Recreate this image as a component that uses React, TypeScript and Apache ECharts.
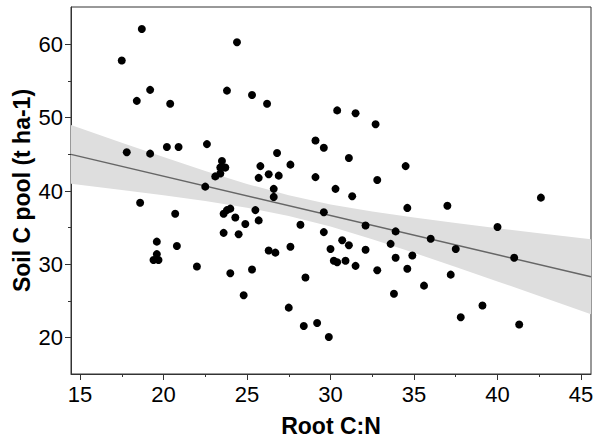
import React, { useEffect, useRef } from "react";
import * as echarts from "echarts";

// Root C:N (x) and Soil C pool (y) for each plot
const rootCN: number[] = [
  17.5, 18.7, 24.4, 19.2, 18.4, 20.4, 23.8, 25.3, 26.2, 17.8,
  19.2, 20.2, 20.9, 22.6, 23.5, 23.4, 23.7, 23.4, 23.1, 22.5,
  25.8, 25.7, 26.8, 26.3, 26.9, 27.6, 26.6, 26.6, 18.6, 20.7,
  23.6, 23.8, 24.0, 24.3, 24.9, 25.5, 25.7, 23.6, 24.5, 19.6,
  20.8, 19.6, 19.4, 19.7, 22.0, 24.0, 25.3, 24.8, 27.5, 27.6,
  26.3, 26.7, 28.2, 28.4, 30.4, 31.5, 32.7, 29.1, 29.6, 31.1,
  34.5, 29.1, 32.8, 30.3, 31.3, 34.6, 29.6, 29.6, 32.1, 33.9,
  33.6, 30.7, 31.1, 30.0, 32.1, 33.9, 30.2, 30.4, 30.9, 31.5,
  32.8, 34.6, 28.5, 33.8, 29.2, 29.9, 37.0, 42.6, 40.0, 36.0,
  37.5, 41.0, 34.9, 37.2, 35.6, 39.1, 37.8, 41.3,
];
const soilC: number[] = [
  57.8, 62.1, 60.3, 53.8, 52.3, 51.9, 53.7, 53.1, 51.9, 45.3,
  45.1, 46.0, 46.0, 46.4, 44.1, 43.2, 43.2, 42.4, 42.0, 40.6,
  43.4, 41.8, 45.2, 42.3, 42.1, 43.6, 40.3, 39.2, 38.4, 36.9,
  36.9, 37.4, 37.6, 36.4, 35.5, 37.4, 36.0, 34.3, 34.1, 33.1,
  32.5, 31.4, 30.6, 30.6, 29.7, 28.8, 29.3, 25.8, 24.1, 32.4,
  31.9, 31.6, 35.4, 21.6, 51.0, 50.6, 49.1, 46.9, 45.9, 44.5,
  43.4, 41.9, 41.5, 40.3, 39.3, 37.7, 37.1, 34.4, 35.3, 34.5,
  32.8, 33.3, 32.6, 32.1, 32.0, 30.9, 30.5, 30.3, 30.5, 29.8,
  29.2, 29.4, 28.2, 26.0, 22.0, 20.1, 38.0, 39.1, 35.1, 33.5,
  32.1, 30.9, 31.2, 28.6, 27.1, 24.4, 22.8, 21.8,
];

// fitted line and its confidence band
const fitX: number[] = [14.46, 45.6];
const fitY: number[] = [45.0, 28.31];
const bandX: number[] = [14.46, 17.5, 20, 22.5, 25, 27.5, 30, 32.5, 35, 37.5, 40, 42.5, 45.6];
const bandUpper: number[] = [49.0, 46.59, 44.64, 42.75, 40.97, 39.42, 38.18, 37.22, 36.4, 35.65, 34.94, 34.25, 33.41];
const bandLower: number[] = [41.0, 40.15, 39.42, 38.63, 37.73, 36.6, 35.16, 33.44, 31.58, 29.65, 27.68, 25.69, 23.21];

// axes
const xTickLabels: number[] = [15, 20, 25, 30, 35, 40, 45];
const xMinorTicks: number[] = [17.5, 22.5, 27.5, 32.5, 37.5, 42.5];
const yTickLabels: number[] = [20, 30, 40, 50, 60];
const yMinorTicks: number[] = [25, 35, 45, 55];
const xTitle = "Root C:N";
const yTitle = "Soil C pool (t ha-1)";

const FONT = "'Liberation Sans', Arial, Helvetica, sans-serif";
const AXIS_COLOR = "#333";
const X_MIN = 14.46;
const X_MAX = 45.6;
const Y_MIN = 15.05;
const Y_MAX = 65.1;

export default function App() {
  const ref = useRef<HTMLDivElement>(null);
  useEffect(() => {
    if (!ref.current) return;
    const chart = echarts.init(ref.current, null, { renderer: "svg" });
    const nameStyle = { fontFamily: FONT, fontSize: 23, fontWeight: "bold", color: "#000" };
    const labelStyle = { fontFamily: FONT, fontSize: 22, color: "#000" };
    chart.setOption({
      animation: false,
      backgroundColor: "#fff",
      grid: {
        left: 71,
        right: 2,
        top: 7,
        bottom: 67,
        show: true,
        borderColor: AXIS_COLOR,
        borderWidth: 1,
        backgroundColor: "transparent",
        outerBoundsMode: "none",
      },
      xAxis: [
        {
          type: "value",
          min: X_MIN,
          max: X_MAX,
          name: xTitle,
          nameLocation: "middle",
          nameGap: 40,
          nameMoveOverlap: false,
          nameTextStyle: nameStyle,
          splitLine: { show: false },
          axisLine: { show: true, lineStyle: { color: AXIS_COLOR, width: 1 } },
          axisTick: { show: true, length: 6, customValues: xTickLabels, lineStyle: { color: AXIS_COLOR } },
          axisLabel: { ...labelStyle, customValues: xTickLabels, margin: 9 },
        },
        {
          type: "value",
          position: "bottom",
          min: X_MIN,
          max: X_MAX,
          splitLine: { show: false },
          axisLine: { show: false },
          axisTick: { show: true, length: 3, customValues: xMinorTicks, lineStyle: { color: AXIS_COLOR } },
          axisLabel: { show: false },
        },
      ],
      yAxis: [
        {
          type: "value",
          min: Y_MIN,
          max: Y_MAX,
          name: yTitle,
          nameLocation: "middle",
          nameGap: 38,
          nameMoveOverlap: false,
          nameTextStyle: nameStyle,
          splitLine: { show: false },
          axisLine: { show: true, lineStyle: { color: AXIS_COLOR, width: 1 } },
          axisTick: { show: true, length: 6, customValues: yTickLabels, lineStyle: { color: AXIS_COLOR } },
          axisLabel: { ...labelStyle, customValues: yTickLabels, margin: 8 },
        },
        {
          type: "value",
          position: "left",
          min: Y_MIN,
          max: Y_MAX,
          splitLine: { show: false },
          axisLine: { show: false },
          axisTick: { show: true, length: 3, customValues: yMinorTicks, lineStyle: { color: AXIS_COLOR } },
          axisLabel: { show: false },
        },
      ],
      series: [
        {
          type: "custom",
          silent: true,
          z: 1,
          data: [[bandX[0], bandUpper[0]]],
          renderItem: (_params: any, api: any) => {
            const pts: number[][] = [];
            for (let i = 0; i < bandX.length; i++) pts.push(api.coord([bandX[i], bandUpper[i]]));
            for (let i = bandX.length - 1; i >= 0; i--) pts.push(api.coord([bandX[i], bandLower[i]]));
            return { type: "polygon", shape: { points: pts }, style: { fill: "#dedede" } };
          },
        },
        {
          type: "line",
          z: 2,
          silent: true,
          symbol: "none",
          data: fitX.map((x, i) => [x, fitY[i]]),
          lineStyle: { color: "#666", width: 1.5 },
        },
        {
          type: "scatter",
          z: 3,
          symbol: "circle",
          symbolSize: 8,
          data: rootCN.map((x, i) => [x, soilC[i]]),
          itemStyle: { color: "#000", opacity: 1 },
        },
      ],
    });
    return () => chart.dispose();
  }, []);
  return (
    <div
      ref={ref}
      style={{ position: "fixed", left: 0, top: 0, width: 593, height: 441, background: "#fff" }}
    />
  );
}
